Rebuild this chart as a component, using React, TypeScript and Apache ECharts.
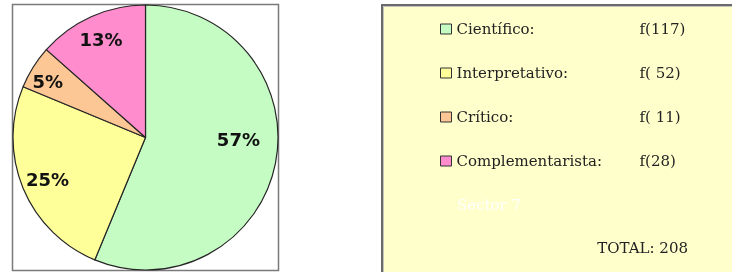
import React, { useEffect, useRef } from 'react';
import * as echarts from 'echarts';

const categories = ['Científico', 'Interpretativo', 'Crítico', 'Complementarista'];
const frequencies = [117, 52, 11, 28];
const percentLabels = ['57%', '25%', '5%', '13%'];
const sliceColors = ['#c4fcc4', '#ffff99', '#fcc794', '#ff8ccc'];
const extraEntry = 'Sector 7';
const labelOffsets = [[25, -12], [-34, 15], [-39, -19], [-16, -35]];

const SERIF = '"DejaVu Serif", "Liberation Serif", serif';

export default function App() {
  const ref = useRef<HTMLDivElement>(null);
  useEffect(() => {
    const chart = echarts.init(ref.current!, null, { renderer: 'svg' });
    const total = frequencies.reduce((a, b) => a + b, 0);
    const freqByName: Record<string, number> = {};
    categories.forEach((c, i) => (freqByName[c] = frequencies[i]));
    chart.setOption({
      animation: false,
      graphic: [
        {
          type: 'rect',
          z: -1,
          shape: { x: 12.5, y: 4.5, width: 266, height: 266 },
          style: { fill: '#ffffff', stroke: '#7a7a7a', lineWidth: 1.5 },
        },
        {
          type: 'rect',
          z: -1,
          shape: { x: 382, y: 5, width: 370, height: 290 },
          style: { fill: '#ffffcc', stroke: '#6a6a6a', lineWidth: 2 },
        },
        {
          type: 'rect',
          z: -1,
          shape: { x: 383.5, y: 6.5, width: 370, height: 290 },
          style: { fill: 'none', stroke: '#c4c4b8', lineWidth: 1 },
        },
        {
          type: 'text',
          x: 457,
          y: 205,
          style: {
            text: extraEntry,
            fill: '#ffffff',
            font: `15px ${SERIF}`,
            verticalAlign: 'middle',
          },
        },
        {
          type: 'text',
          x: 688,
          y: 248,
          style: {
            text: `TOTAL: ${total}`,
            fill: '#222222',
            font: `15px ${SERIF}`,
            align: 'right',
            verticalAlign: 'middle',
          },
        },
      ],
      legend: {
        orient: 'vertical',
        left: 440,
        top: 19,
        padding: 0,
        itemGap: 24,
        itemWidth: 11,
        itemHeight: 10,
        icon: 'rect',
        selectedMode: false,
        data: categories,
        itemStyle: { borderColor: '#333333', borderWidth: 1 },
        formatter: (name: string) => {
          const v = freqByName[name];
          const s = v >= 100 || v === 28 ? String(v) : ' ' + v;
          return `{n|${name}:}{v|f(${s})}`;
        },
        textStyle: {
          lineHeight: 20,
          rich: {
            n: { width: 183, fontFamily: SERIF, fontSize: 15, color: '#222222', lineHeight: 20 },
            v: { fontFamily: SERIF, fontSize: 15, color: '#222222', lineHeight: 20 },
          },
        },
      },
      series: [
        {
          type: 'pie',
          center: [145.5, 137.5],
          radius: 132.5,
          startAngle: 90,
          clockwise: true,
          silent: true,
          emphasis: { disabled: true },
          labelLine: { show: false },
          itemStyle: { borderColor: '#262626', borderWidth: 1.2 },
          label: {
            show: true,
            position: 'inside',
            fontFamily: '"DejaVu Sans", sans-serif',
            fontWeight: 'bold',
            fontSize: 18,
            color: '#111111',
          },
          data: categories.map((name, i) => ({
            name,
            value: frequencies[i],
            itemStyle: { color: sliceColors[i] },
            label: { formatter: percentLabels[i], offset: labelOffsets[i] },
          })),
        },
      ],
    });
    return () => chart.dispose();
  }, []);
  return (
    <div
      ref={ref}
      style={{ position: 'fixed', left: 0, top: 0, width: 732, height: 272 }}
    />
  );
}
